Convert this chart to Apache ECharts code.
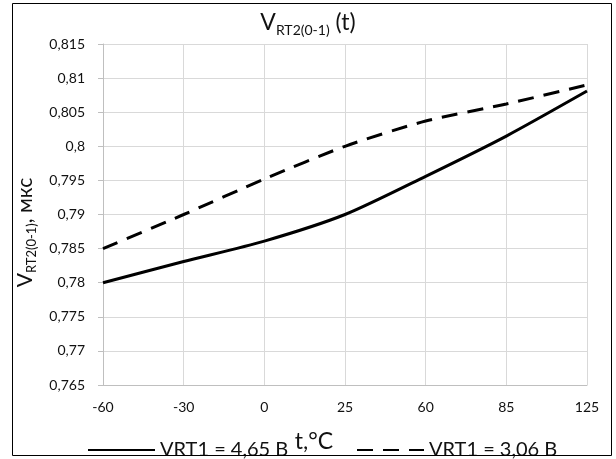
<!DOCTYPE html>
<html>
<head>
<meta charset="utf-8">
<script src="https://cdn.jsdelivr.net/npm/echarts@6/dist/echarts.min.js"></script>
<style>
html,body{margin:0;padding:0;background:#fff;}
#chart{width:616px;height:459px;}
</style>
</head>
<body>
<div id="chart"></div>
<script>
// ---- data ----
var categories = ['-60', '-30', '0', '25', '60', '85', '125'];
var seriesNames = ['VRT1 = 4,65 В', 'VRT1 = 3,06 В'];
var vrt465 = [0.7800, 0.7831, 0.7861, 0.7900, 0.7956, 0.8015, 0.8081];
var vrt306 = [0.7850, 0.7900, 0.7952, 0.8000, 0.8037, 0.8062, 0.8090];
var yMin = 0.765, yMax = 0.815, yStep = 0.005;

var FONT = 'Lato, "Open Sans", sans-serif';
var TXT = '#111';

var chart = echarts.init(document.getElementById('chart'), null, {renderer: 'canvas'});

var legendBase = {
  top: 440,
  padding: 0,
  itemWidth: 67, itemHeight: 14,
  itemStyle: {opacity: 0},
  textStyle: {fontFamily: FONT, fontSize: 20, color: TXT},
  selectedMode: false
};

var option = {
  backgroundColor: '#fff',
  animation: false,
  title: {
    text: '{m|V}{s|RT2(0-1)}{m| (t)}',
    left: 'center',
    top: 6,
    textStyle: {
      fontFamily: FONT,
      fontWeight: 'normal',
      rich: {
        m: {fontFamily: FONT, fontWeight: 'normal', fontSize: 23, color: TXT, lineHeight: 26, verticalAlign: 'top'},
        s: {fontFamily: FONT, fontWeight: 'normal', fontSize: 14, color: TXT, lineHeight: 14, padding: [16, 0, 0, 0], verticalAlign: 'bottom'}
      }
    }
  },
  grid: {left: 103, right: 29, top: 44, bottom: 74, containLabel: false},
  legend: [
    Object.assign({}, legendBase, {data: [seriesNames[0]], left: 87}),
    Object.assign({}, legendBase, {data: [seriesNames[1]], left: 356})
  ],
  xAxis: {
    type: 'category',
    data: categories,
    boundaryGap: false,
    name: 't,°C',
    nameLocation: 'middle',
    nameGap: 45,
    nameTextStyle: {fontFamily: FONT, fontSize: 23, color: TXT, lineHeight: 24, padding: [0, 62, 0, 0]},
    axisLine: {show: true, lineStyle: {color: '#bfbfbf', width: 1}},
    axisTick: {show: false},
    axisLabel: {fontFamily: FONT, fontSize: 14, color: TXT, margin: 15},
    splitLine: {show: true, lineStyle: {color: '#d9d9d9', width: 1}}
  },
  yAxis: {
    type: 'value',
    min: yMin,
    max: yMax,
    interval: yStep,
    name: '{m|V}{s|RT2(0-1)}{m|, мкс}',
    nameLocation: 'middle',
    nameRotate: 90,
    nameGap: 58,
    nameTextStyle: {
      fontFamily: FONT,
      padding: [0, 36, 0, 0],
      rich: {
        m: {fontFamily: FONT, fontSize: 21, color: TXT, lineHeight: 24, verticalAlign: 'top'},
        s: {fontFamily: FONT, fontSize: 13, color: TXT, lineHeight: 13, padding: [14, 0, 0, 0], verticalAlign: 'bottom'}
      }
    },
    axisLine: {show: true, lineStyle: {color: '#bfbfbf', width: 1}},
    axisTick: {show: true, length: 5, lineStyle: {color: '#bfbfbf'}},
    axisLabel: {
      fontFamily: FONT, fontSize: 14, color: TXT, margin: 18,
      formatter: function (v) { return String(+v.toFixed(3)).replace('.', ','); }
    },
    splitLine: {show: true, lineStyle: {color: '#d9d9d9', width: 1}}
  },
  series: [
    {
      name: seriesNames[0],
      type: 'line',
      data: vrt465,
      smooth: 0.25,
      showSymbol: false,
      symbol: 'none',
      lineStyle: {color: '#000', width: 3, type: 'solid'},
      itemStyle: {color: '#000'}
    },
    {
      name: seriesNames[1],
      type: 'line',
      data: vrt306,
      smooth: 0.25,
      showSymbol: false,
      symbol: 'none',
      lineStyle: {color: '#000', width: 3, type: [16, 10]},
      itemStyle: {color: '#000'}
    }
  ],
  graphic: [
    {
      type: 'rect',
      silent: true,
      z: 100,
      shape: {x: 12.5, y: 3.5, width: 599, height: 452},
      style: {fill: 'none', stroke: '#000', lineWidth: 1}
    }
  ]
};

chart.setOption(option);
</script>
</body>
</html>
